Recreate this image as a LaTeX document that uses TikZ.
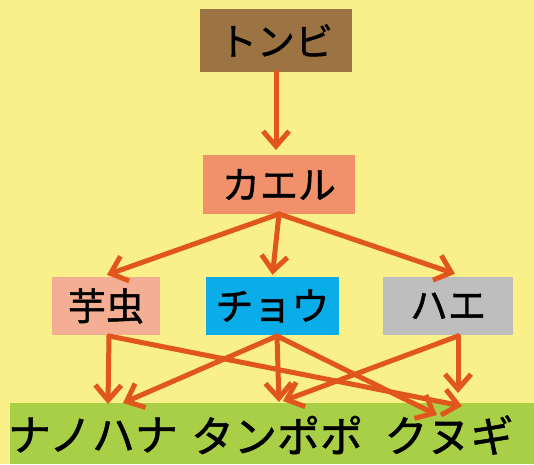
\documentclass[tikz,border=0pt]{standalone}
\usepackage{fontspec}
\newfontfamily\jp[FakeBold=1.2]{Noto Sans CJK JP}
\usetikzlibrary{arrows.meta,calc}
\definecolor{bg}{HTML}{F9F08A}
\definecolor{tonbic}{HTML}{9C7443}
\definecolor{kaeruc}{HTML}{F0916C}
\definecolor{imoc}{HTML}{F4AE93}
\definecolor{chouc}{HTML}{0BADE8}
\definecolor{haec}{HTML}{BEBEBE}
\definecolor{grassc}{HTML}{A8CF45}
\definecolor{arrc}{HTML}{E0561C}
\tikzset{
  box/.style={inner sep=0pt, font=\jp\fontsize{38}{40}\selectfont, text=black},
  word/.style={inner sep=0pt, font=\jp\fontsize{43}{45}\selectfont, text=black},
  link/.style={draw=arrc, line width=5pt, -{Straight Barb[length=15pt,width=26pt,line width=5pt]}, line cap=round, line join=round}
}
\begin{document}
\begin{tikzpicture}[x=1pt,y=-1pt]
\fill[bg] (0,0) rectangle (534,464);
\useasboundingbox (0,0) rectangle (534,464);
% boxes
\node[box, fill=tonbic, minimum width=152pt, minimum height=63pt] (tonbi) at (276,40.5) {トンビ};
\node[box, fill=kaeruc, minimum width=152pt, minimum height=59pt] (kaeru) at (279,184.5) {カエル};
\node[box, fill=imoc, minimum width=108pt, minimum height=58pt] (imo) at (106,306) {芋虫};
\node[box, fill=chouc, minimum width=133pt, minimum height=58pt] (chou) at (272.5,306) {チョウ};
\node[box, fill=haec, minimum width=130pt, minimum height=58pt] (hae) at (448,306) {ハエ};
% green bar
\fill[grassc] (10,403) rectangle (534,464);
\node[word] (nano) at (93,435) {ナノハナ};
\node[word] (tanpo) at (277,435) {タンポポ};
\node[word] (kunugi) at (449,435) {クヌギ};
% arrow endpoints
\coordinate (kS) at (279,214);
\coordinate (kaeruT) at (276,150);
\coordinate (imoS) at (109,336);
\coordinate (chouS) at (277,336);
\coordinate (haeS) at (458,336);
\coordinate (nanoA) at (108,404);
\coordinate (nanoB) at (123,403);
\coordinate (tanpoA) at (279,402);
\coordinate (tanpoB) at (283,401);
\coordinate (kunuA) at (462,406);
\coordinate (kunuB) at (437,415);
\coordinate (kunuC) at (458,393);
% connectors
\draw[link] (tonbi.south) -- (kaeruT);
\draw[link] (kS) -- ($(imo.north)+(1,-2)$);
\draw[link] (kS) -- ($(chou.north)+(0,-2)$);
\draw[link] (kS) -- ($(hae.north)+(7,-3)$);
\draw[link] (imoS) -- (nanoA);
\draw[link] (imoS) -- (kunuA);
\draw[link] (chouS) -- (nanoB);
\draw[link] (chouS) -- (tanpoA);
\draw[link] (chouS) -- (kunuB);
\draw[link] (haeS) -- (tanpoB);
\draw[link] (haeS) -- (kunuC);
\end{tikzpicture}
\end{document}
